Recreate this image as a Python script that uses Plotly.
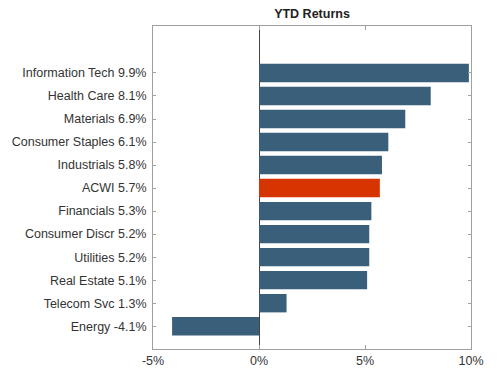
import plotly.graph_objects as go

sectors = ["Information Tech", "Health Care", "Materials", "Consumer Staples", "Industrials",
           "ACWI", "Financials", "Consumer Discr", "Utilities", "Real Estate", "Telecom Svc", "Energy"]
returns = [9.9, 8.1, 6.9, 6.1, 5.8, 5.7, 5.3, 5.2, 5.2, 5.1, 1.3, -4.1]
tick_vals = [-5, 0, 5, 10]
tick_text = ["-5%", "0%", "5%", "10%"]

labels = [f"{s} {v}%" for s, v in zip(sectors, returns)]
colors = ["#d63400" if s == "ACWI" else "#3a5f7a" for s in sectors]

fig = go.Figure(go.Bar(
    x=returns, y=labels, orientation="h",
    marker=dict(color=colors, line=dict(width=0)),
    width=0.8,
))

fig.update_layout(
    width=500, height=379,
    margin=dict(l=153, r=29, t=26, b=30),
    paper_bgcolor="white", plot_bgcolor="white",
    showlegend=False,
    font=dict(family="Liberation Sans, Arial, sans-serif", size=12.5, color="#333333"),
    title=dict(text="<b>YTD Returns</b>", x=(153 + 471) / 2 / 500, xanchor="center",
               xref="container", y=1 - 14 / 379, yanchor="middle", yref="container",
               font=dict(size=12.5, color="#222222")),
)
fig.update_xaxes(
    range=[-5, 10], tickvals=tick_vals, ticktext=tick_text, automargin=False,
    showgrid=False, zeroline=True, zerolinecolor="#444444", zerolinewidth=1,
    showline=True, linecolor="#a0a0a0", linewidth=1, mirror="ticks",
    ticks="inside", ticklen=4, tickcolor="#a0a0a0",
    tickfont=dict(size=12.5, color="#333333"),
)
fig.update_yaxes(
    categoryorder="array", categoryarray=labels, automargin=False,
    range=[11.99, -2.04],
    showgrid=False, showline=True, linecolor="#a0a0a0", linewidth=1, mirror="ticks",
    ticks="inside", ticklen=3, tickcolor="#a0a0a0",
    tickfont=dict(size=12.5, color="#333333"), ticklabelstandoff=3,
)

fig.write_html("out.html", post_script="document.body.style.margin='0';",
               config={"displayModeBar": False})
